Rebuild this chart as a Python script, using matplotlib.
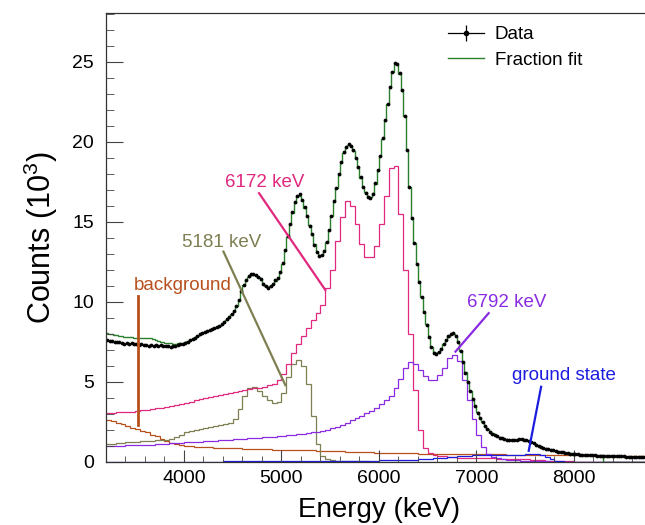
import numpy as np
import matplotlib.pyplot as plt
from matplotlib.lines import Line2D

plt.rcParams['font.family'] = ['Liberation Sans', 'DejaVu Sans']
plt.rcParams['mathtext.fontset'] = 'custom'
plt.rcParams['mathtext.rm'] = 'Liberation Sans'

# data and total fit: 25 keV bins, 3200-8800 keV, counts in units of 10^3
fine_edges = np.arange(3200, 8801, 25)
fine_centers = 0.5 * (fine_edges[:-1] + fine_edges[1:])

data_counts = [
    7.62, 7.55, 7.58, 7.50, 7.47, 7.52, 7.44, 7.40, 7.45, 7.38, 7.42, 7.35, 7.38, 7.32, 7.36, 7.30, 7.34, 7.28, 7.33, 7.27,
    7.30, 7.25, 7.29, 7.22, 7.27, 7.24, 7.21, 7.28, 7.26, 7.31, 7.35, 7.38, 7.45, 7.50, 7.60, 7.66, 7.78, 7.88, 8.00, 8.05,
    8.15, 8.18, 8.28, 8.30, 8.40, 8.42, 8.52, 8.60, 8.78, 8.92, 9.05, 9.25, 9.45, 9.78, 10.15, 10.68, 11.08, 11.40, 11.60, 11.75,
    11.72, 11.70, 11.55, 11.42, 11.15, 11.02, 10.90, 11.00, 11.12, 11.35, 11.48, 11.85, 12.42, 13.22, 14.10, 14.88, 15.60, 16.25, 16.65, 16.72,
    16.40, 15.92, 15.38, 14.78, 14.22, 13.58, 13.12, 12.85, 12.92, 13.18, 13.78, 14.52, 15.38, 16.30, 17.12, 17.98, 18.75, 19.35, 19.70, 19.90,
    19.78, 19.50, 19.02, 18.45, 17.80, 17.20, 16.82, 16.55, 16.50, 16.78, 17.42, 18.25, 19.12, 20.25, 21.35, 22.40, 23.45, 24.40, 24.95, 24.88,
    24.30, 23.22, 21.62, 19.48, 17.18, 15.22, 13.68, 12.38, 11.28, 10.32, 9.38, 8.58, 7.82, 7.18, 6.82, 6.75, 6.88, 7.08, 7.35, 7.62,
    7.85, 8.00, 8.05, 7.88, 7.52, 6.95, 6.22, 5.58, 4.98, 4.42, 3.92, 3.48, 3.08, 2.75, 2.48, 2.25, 2.06, 1.90, 1.78, 1.68,
    1.60, 1.53, 1.48, 1.43, 1.40, 1.37, 1.36, 1.38, 1.40, 1.42, 1.42, 1.39, 1.36, 1.30, 1.24, 1.17, 1.09, 1.01, 0.94, 0.88,
    0.84, 0.80, 0.76, 0.72, 0.68, 0.65, 0.62, 0.60, 0.57, 0.55, 0.53, 0.51, 0.49, 0.48, 0.46, 0.45, 0.44, 0.43, 0.42, 0.42,
    0.41, 0.40, 0.40, 0.39, 0.39, 0.38, 0.38, 0.37, 0.37, 0.36, 0.36, 0.35, 0.35, 0.34, 0.34, 0.33, 0.33, 0.32, 0.32, 0.31,
    0.31, 0.30, 0.30, 0.29,
]

fit_counts = [
    8.05, 8.02, 7.98, 7.95, 7.92, 7.88, 7.85, 7.83, 7.81, 7.80, 7.79, 7.78, 7.78, 7.77, 7.77, 7.76, 7.76, 7.75, 7.72, 7.67,
    7.62, 7.57, 7.52, 7.48, 7.45, 7.43, 7.41, 7.40, 7.40, 7.41, 7.43, 7.45, 7.50, 7.56, 7.63, 7.70, 7.80, 7.90, 8.00, 8.07,
    8.13, 8.19, 8.25, 8.31, 8.37, 8.43, 8.50, 8.62, 8.76, 8.90, 9.06, 9.22, 9.45, 9.75, 10.15, 10.65, 11.05, 11.35, 11.55, 11.68,
    11.70, 11.65, 11.55, 11.40, 11.18, 11.00, 10.92, 10.98, 11.15, 11.32, 11.50, 11.80, 12.40, 13.20, 14.05, 14.85, 15.55, 16.20, 16.60, 16.65,
    16.35, 15.90, 15.35, 14.80, 14.20, 13.60, 13.15, 12.92, 12.95, 13.20, 13.75, 14.50, 15.35, 16.25, 17.10, 17.95, 18.70, 19.30, 19.65, 19.80,
    19.72, 19.45, 19.00, 18.40, 17.75, 17.20, 16.85, 16.60, 16.55, 16.80, 17.40, 18.20, 19.10, 20.20, 21.30, 22.35, 23.40, 24.35, 24.85, 24.80,
    24.25, 23.20, 21.60, 19.50, 17.20, 15.20, 13.70, 12.40, 11.30, 10.30, 9.40, 8.60, 7.85, 7.20, 6.85, 6.80, 6.90, 7.10, 7.35, 7.60,
    7.82, 7.97, 8.00, 7.85, 7.50, 6.95, 6.25, 5.60, 5.00, 4.45, 3.95, 3.50, 3.10, 2.78, 2.50, 2.28, 2.08, 1.92, 1.80, 1.70,
    1.62, 1.55, 1.50, 1.45, 1.41, 1.38, 1.37, 1.38, 1.40, 1.42, 1.42, 1.40, 1.37, 1.32, 1.26, 1.19, 1.11, 1.03, 0.96, 0.90,
    0.86, 0.82, 0.78, 0.74, 0.70, 0.67, 0.64, 0.61, 0.58, 0.56, 0.54, 0.52, 0.50, 0.49, 0.48, 0.46, 0.45, 0.44, 0.43, 0.43,
    0.42, 0.42, 0.41, 0.41, 0, 0, 0, 0, 0, 0, 0, 0, 0, 0, 0, 0, 0, 0, 0, 0,
    0, 0, 0, 0,
]

# fit components: 50 keV bins
comp_edges = np.arange(3200, 8801, 50)

bkg_counts = [
    2.65, 2.55, 2.45, 2.35, 2.25, 2.15, 2.05, 1.95, 1.85, 1.70,
    1.60, 1.45, 1.30, 1.20, 1.10, 1.05, 1.00, 0.98, 0.96, 0.95,
    0.93, 0.92, 0.90, 0.90, 0.88, 0.87, 0.86, 0.85, 0.84, 0.83,
    0.82, 0.81, 0.80, 0.79, 0.78, 0.77, 0.76, 0.76, 0.75, 0.75,
    0.74, 0.73, 0.72, 0.71, 0.70, 0.69, 0.68, 0.67, 0.66, 0.65,
    0.64, 0.63, 0.62, 0.61, 0.60, 0.59, 0.58, 0.57, 0.56, 0.56,
    0.55, 0.55, 0.54, 0.54, 0.53, 0.53, 0.52, 0.52, 0.51, 0.51,
    0.50, 0.50, 0.50, 0.49, 0.49, 0.49, 0.48, 0.48, 0.48, 0.47,
    0.47, 0.47, 0.46, 0.46, 0.46, 0.45, 0.45, 0.45, 0.44, 0.44,
    0.44, 0.43, 0.43, 0.43, 0.42, 0.42, 0.42, 0.41, 0.41, 0.41,
    0.40, 0.40, 0.40, 0.39, 0.39, 0.39, 0.38, 0.38, 0.38, 0.37,
    0.37, 0.37,
]

s5181_counts = [
    1.12, 1.14, 1.16, 1.19, 1.22, 1.25, 1.28, 1.30, 1.32, 1.34,
    1.35, 1.37, 1.40, 1.45, 1.55, 1.70, 1.85, 1.95, 2.00, 2.05,
    2.15, 2.20, 2.25, 2.30, 2.35, 2.45, 2.70, 3.30, 4.10, 4.60,
    4.70, 4.45, 4.15, 3.85, 3.70, 3.75, 4.30, 5.30, 6.10, 6.40,
    6.00, 4.90, 2.90, 1.10, 0.40, 0.20, 0.12, 0.08, 0.06, 0.05,
    0.05, 0.04, 0.04, 0.04, 0.03, 0.03, 0.03, 0.03, 0.03, 0.02,
    0.02, 0.02, 0.02, 0.02, 0.02, 0.02, 0.02, 0.02, 0.02, 0.02,
    0.02, 0.02, 0.02, 0.02, 0.02, 0.02, 0.02, 0.02, 0.02, 0.02,
    0.01, 0.01, 0.01, 0.01, 0.01, 0.01, 0.01, 0.01, 0.01, 0.01,
    0.01, 0.01, 0.01, 0.01, 0.01, 0.01, 0.01, 0.01, 0.01, 0.01,
    0.01, 0.01, 0.01, 0.01, 0.01, 0.01, 0.01, 0.01, 0.01, 0.01,
    0.01, 0.01,
]

s6172_counts = [
    3.05, 3.07, 3.10, 3.12, 3.14, 3.15, 3.18, 3.22, 3.26, 3.30,
    3.35, 3.40, 3.45, 3.50, 3.55, 3.62, 3.70, 3.78, 3.85, 3.92,
    3.98, 4.05, 4.12, 4.20, 4.26, 4.32, 4.38, 4.45, 4.50, 4.55,
    4.60, 4.65, 4.70, 4.80, 4.90, 5.10, 5.50, 6.10, 6.80, 7.40,
    7.90, 8.40, 8.90, 9.30, 9.80, 10.90, 12.00, 13.80, 15.30, 16.30,
    16.00, 14.90, 13.60, 12.80, 12.80, 13.50, 14.90, 16.60, 18.40, 18.50,
    15.50, 12.00, 8.00, 4.50, 2.00, 0.90, 0.55, 0.45, 0.40, 0.35,
    0.32, 0.30, 0.28, 0.27, 0.26, 0.25, 0.24, 0.23, 0.22, 0.22,
    0.21, 0.20, 0.20, 0.19, 0.18, 0.17, 0.16, 0.14, 0.12, 0.10,
    0.08, 0.07, 0.06, 0.05, 0.04, 0.04, 0.03, 0.03, 0.02, 0.02,
    0.02, 0.02, 0.02, 0.01, 0.01, 0.01, 0.01, 0.01, 0.01, 0.01,
    0.01, 0.01,
]

s6792_counts = [
    1.00, 1.00, 1.02, 1.03, 1.04, 1.05, 1.06, 1.07, 1.08, 1.09,
    1.10, 1.12, 1.14, 1.16, 1.18, 1.20, 1.22, 1.24, 1.26, 1.28,
    1.30, 1.32, 1.34, 1.36, 1.38, 1.40, 1.42, 1.44, 1.46, 1.48,
    1.50, 1.52, 1.54, 1.56, 1.58, 1.60, 1.63, 1.66, 1.70, 1.73,
    1.77, 1.81, 1.85, 1.90, 1.96, 2.03, 2.10, 2.20, 2.30, 2.45,
    2.60, 2.75, 2.90, 3.05, 3.20, 3.40, 3.60, 3.85, 4.15, 4.60,
    5.20, 5.90, 6.25, 6.10, 5.75, 5.40, 5.15, 5.15, 5.45, 5.90,
    6.50, 6.70, 6.30, 5.10, 3.90, 2.70, 1.70, 0.95, 0.50, 0.30,
    0.22, 0.17, 0.14, 0.12, 0.10, 0.08, 0.07, 0.06, 0.05, 0.04,
    0.04, 0.03, 0.03, 0.03, 0.02, 0.02, 0.02, 0.02, 0.02, 0.01,
    0.01, 0.01, 0.01, 0.01, 0.01, 0.01, 0.01, 0.01, 0.01, 0.01,
    0.01, 0.01,
]

gs_counts = [
    0.02, 0.02, 0.02, 0.02, 0.02, 0.02, 0.02, 0.02, 0.02, 0.02,
    0.02, 0.02, 0.02, 0.03, 0.03, 0.03, 0.03, 0.03, 0.03, 0.03,
    0.03, 0.03, 0.03, 0.03, 0.04, 0.04, 0.04, 0.04, 0.04, 0.04,
    0.04, 0.04, 0.04, 0.05, 0.05, 0.05, 0.05, 0.05, 0.05, 0.05,
    0.05, 0.05, 0.06, 0.06, 0.06, 0.06, 0.06, 0.07, 0.07, 0.07,
    0.07, 0.08, 0.08, 0.08, 0.09, 0.09, 0.10, 0.10, 0.11, 0.11,
    0.12, 0.13, 0.14, 0.15, 0.17, 0.19, 0.21, 0.23, 0.25, 0.27,
    0.30, 0.33, 0.36, 0.38, 0.40, 0.42, 0.44, 0.45, 0.45, 0.45,
    0.44, 0.43, 0.42, 0.42, 0.43, 0.45, 0.48, 0.50, 0.50, 0.44,
    0.32, 0.18, 0.08, 0.04, 0.02, 0.01, 0.01, 0.01, 0.01, 0.01,
    0.01, 0.01, 0.01, 0.01, 0.01, 0.01, 0.01, 0.01, 0.01, 0.01,
    0.01, 0.01,
]

c_bkg = '#b8501e'
c_5181 = '#7f7f52'
c_6172 = '#e0287e'
c_6792 = '#8a2be2'
c_gs = '#1c1ce0'
c_fit = '#2c7f2c'

fig = plt.figure(figsize=(6.45, 5.25), dpi=100)
ax = fig.add_axes([0.1643, 0.12, 0.8465, 0.8558])

ax.stairs(bkg_counts, comp_edges, baseline=None, color=c_bkg, lw=0.9)
ax.stairs(s5181_counts, comp_edges, baseline=None, color=c_5181, lw=0.9)
ax.stairs(s6172_counts, comp_edges, baseline=None, color=c_6172, lw=0.9)
ax.stairs(s6792_counts, comp_edges, baseline=None, color=c_6792, lw=0.9)
ax.stairs(gs_counts, comp_edges, baseline=None, color=c_gs, lw=0.9)
ax.stairs(fit_counts, fine_edges, baseline=None, color=c_fit, lw=1.0)
ax.plot(fine_centers, data_counts, 'o', color='black', ms=2.7, mew=0)

# labels for the fit components
ax.text(4830, 17.45, '6172 keV', color=c_6172, fontsize=13.5, ha='center', va='center')
ax.plot([4770, 5450], [16.8, 10.75], color=c_6172, lw=1.6)
ax.text(4390, 13.7, '5181 keV', color=c_5181, fontsize=13.5, ha='center', va='center')
ax.plot([4405, 5040], [13.15, 4.8], color=c_5181, lw=1.6)
ax.text(3990, 11.0, 'background', color=c_bkg, fontsize=13.5, ha='center', va='center')
ax.plot([3532, 3532], [10.35, 2.3], color=c_bkg, lw=2.0)
ax.text(7315, 9.95, '6792 keV', color=c_6792, fontsize=13.5, ha='center', va='center')
ax.plot([7125, 6785], [9.3, 6.9], color=c_6792, lw=1.6)
ax.text(7900, 5.38, 'ground state', color=c_gs, fontsize=13.5, ha='center', va='center')
ax.plot([7663, 7536], [4.7, 0.7], color=c_gs, lw=1.6)

ax.set_xlim(3200, 8800)
ax.set_ylim(0, 28.08)
ax.set_xticks([4000, 5000, 6000, 7000, 8000])
ax.set_xticks(np.arange(3200, 8801, 200), minor=True)
ax.set_yticks([0, 5, 10, 15, 20, 25])
ax.set_yticks(np.arange(0, 28.1, 1), minor=True)
ax.tick_params(axis='both', which='both', direction='in', labelsize=14, color='#444444')
ax.tick_params(axis='x', which='major', length=8.6, pad=6)
ax.tick_params(axis='x', which='minor', length=4.3)
ax.tick_params(axis='y', which='major', length=12, pad=8.6)
ax.tick_params(axis='y', which='minor', length=6)
for s in ax.spines.values():
    s.set_color('#333333')
    s.set_linewidth(0.9)

ax.set_xlabel('Energy (keV)', fontsize=20, labelpad=7)
ax.set_ylabel('Counts (10$^{3}$)', fontsize=22, labelpad=9)

data_handle = (Line2D([], [], color='black', lw=0.9),
               Line2D([], [], color='black', marker='|', ms=11, mew=0.9, ls='none'),
               Line2D([], [], color='black', marker='o', ms=3, ls='none'))
fit_handle = Line2D([], [], color=c_fit, lw=1.0)
ax.legend([data_handle, fit_handle], ['Data', 'Fraction fit'], loc='upper left',
          bbox_to_anchor=(0.68, 0.968), bbox_transform=fig.transFigure,
          frameon=False, fontsize=13.5, handlelength=1.9, handletextpad=0.6,
          labelspacing=0.45, borderpad=0)

fig.savefig('out.png', dpi=100)
